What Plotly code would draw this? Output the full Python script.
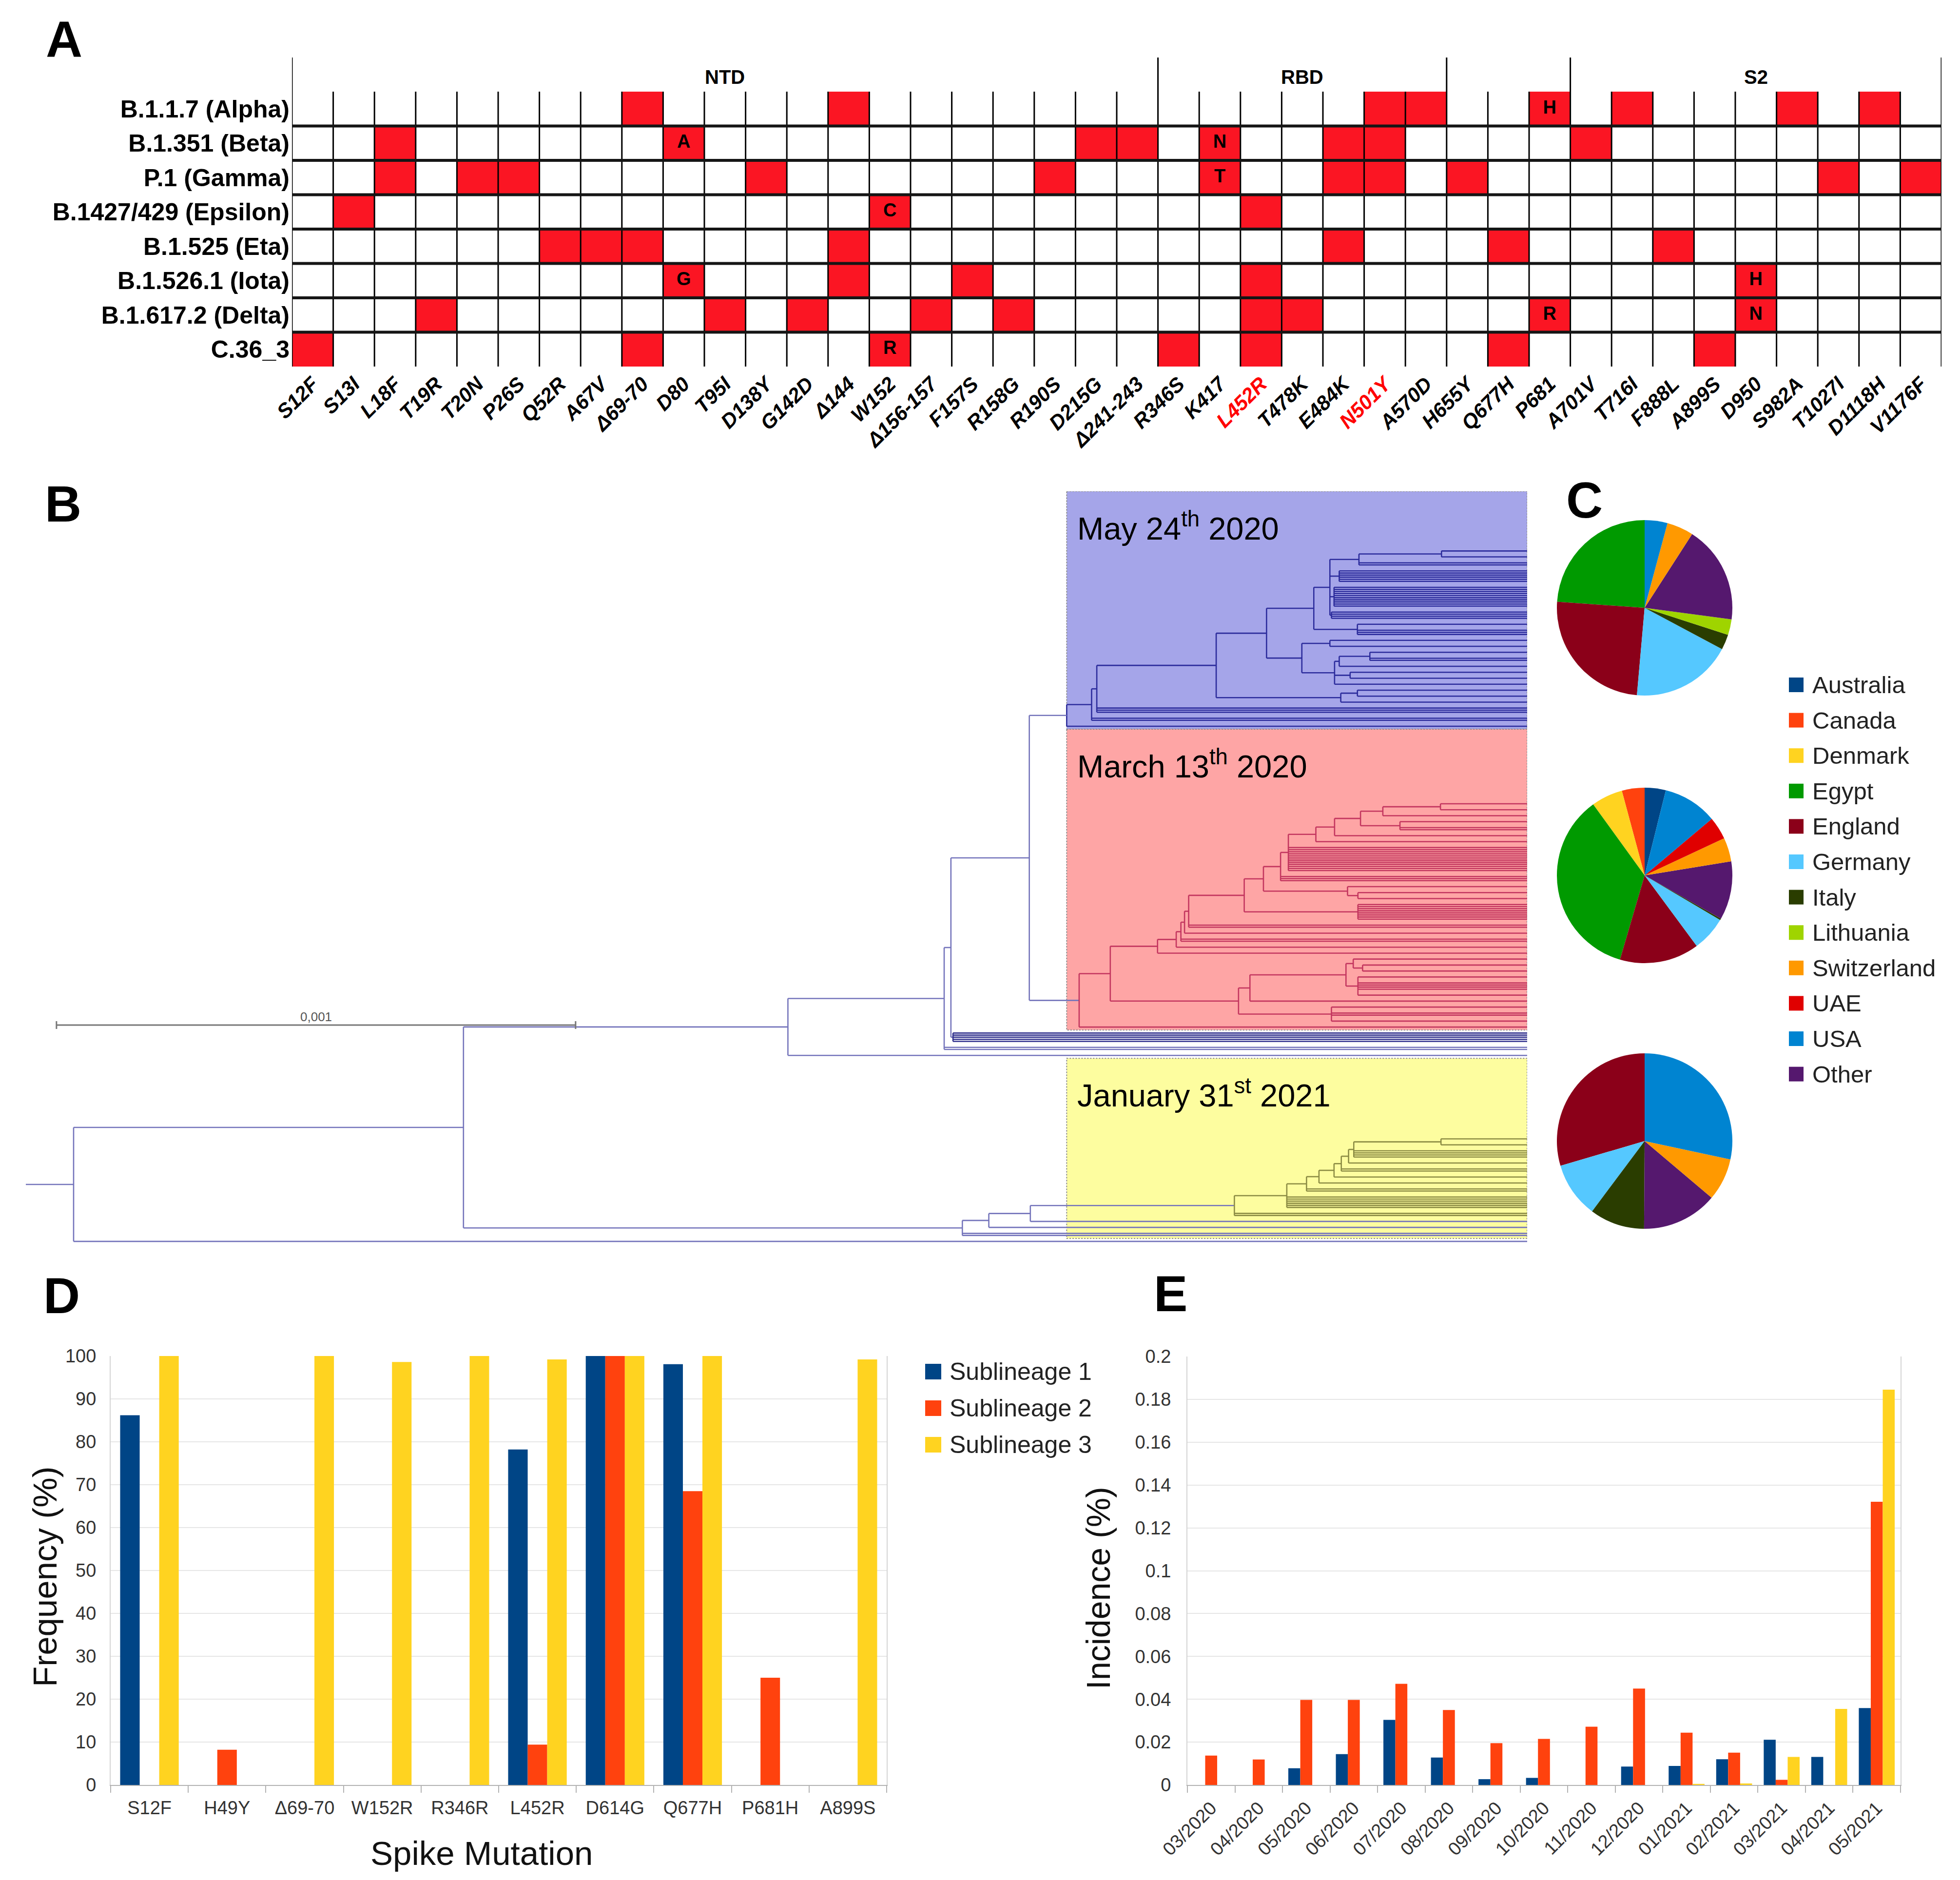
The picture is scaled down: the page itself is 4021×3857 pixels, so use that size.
import plotly.graph_objects as go

W, H = 4021, 3857
FONT = "Liberation Sans, Arial, Helvetica, sans-serif"

# ======================= DATA =======================
# ---- Panel A : spike mutations of variants ----
LINEAGES = ["B.1.1.7 (Alpha)", "B.1.351 (Beta)", "P.1 (Gamma)", "B.1427/429 (Epsilon)",
            "B.1.525 (Eta)", "B.1.526.1 (Iota)", "B.1.617.2 (Delta)", "C.36_3"]
MUTATIONS = ["S12F", "S13I", "L18F", "T19R", "T20N", "P26S", "Q52R", "A67V", "Δ69-70", "D80",
             "T95I", "D138Y", "G142D", "Δ144", "W152", "Δ156-157", "F157S", "R158G", "R190S",
             "D215G", "Δ241-243", "R346S", "K417", "L452R", "T478K", "E484K", "N501Y", "A570D",
             "H655Y", "Q677H", "P681", "A701V", "T716I", "F888L", "A899S", "D950", "S982A",
             "T1027I", "D1118H", "V1176F"]
HIGHLIGHTED_MUTATIONS = ["L452R", "N501Y"]
DOMAIN_NAMES = ["NTD", "RBD", "", "S2"]
DOMAIN_FIRST = ["S12F", "R346S", "H655Y", "A701V"]
ALPHA = ["Δ69-70", "Δ144", "N501Y", "A570D", "P681", "T716I", "S982A", "D1118H"]
BETA = ["L18F", "D80", "D215G", "Δ241-243", "K417", "E484K", "N501Y", "A701V"]
GAMMA = ["L18F", "T20N", "P26S", "D138Y", "R190S", "K417", "E484K", "N501Y", "H655Y", "T1027I", "V1176F"]
EPSILON = ["S13I", "W152", "L452R"]
ETA = ["Q52R", "A67V", "Δ69-70", "Δ144", "E484K", "Q677H", "F888L"]
IOTA = ["D80", "Δ144", "F157S", "L452R", "D950"]
DELTA = ["T19R", "T95I", "G142D", "Δ156-157", "R158G", "L452R", "T478K", "P681", "D950"]
C36_3 = ["S12F", "Δ69-70", "W152", "R346S", "L452R", "Q677H", "A899S"]
SUBSTITUTIONS = {
    ("B.1.1.7 (Alpha)", "P681"): "H", ("B.1.351 (Beta)", "D80"): "A",
    ("B.1.351 (Beta)", "K417"): "N", ("P.1 (Gamma)", "K417"): "T",
    ("B.1427/429 (Epsilon)", "W152"): "C", ("B.1.526.1 (Iota)", "D80"): "G",
    ("B.1.526.1 (Iota)", "D950"): "H", ("B.1.617.2 (Delta)", "P681"): "R",
    ("B.1.617.2 (Delta)", "D950"): "N", ("C.36_3", "W152"): "R",
}

# ---- Panel B : phylogeny (node depth in 1e-5 subst./site, ints = tips) ----
BLUE_CLADE = [200.5,
              [205.3,
               [206.3,
                [229.3,
                 [239.0,
                  [248.1,
                   [251.2,
                    [256.8, [272.7, 1, 1], 2],
                    [253.0, 6],
                    [252.0, 10],
                    [251.5, 4]],
                   [256.5, 1, 3]],
                  [245.8,
                   [251.2, 1, 1],
                   [252.1,
                    [253.0, [258.9, 1, 2], 1],
                    [255.1, 1, 1],
                    1]]],
                 [253.3, [256.5, 1, 1], 1]],
                3],
               2],
              1]
RED_CLADE = [202.9,
             [208.9,
              [218.0,
               [221.6,
                [222.5,
                 [223.2,
                  [224.0,
                   [234.7,
                    [238.4,
                     [241.7,
                      [243.2,
                       [248.5,
                        [252.1,
                         [257.1,
                          [261.4, [272.5, 1, 1], 1],
                          [264.7, 1, 2]],
                         1],
                        1],
                       12],
                      3],
                     [254.6, 1, [256.6, 1, 1]]],
                    [256.6, 8]],
                   2],
                  1],
                 2],
                1],
               1],
              [233.6,
               [235.8,
                [254.3,
                 [255.7, 1, [257.5, 1, 1]],
                 [256.6, 1, 4, 1]],
                1],
               [251.5, 1, 2, 1]]],
             1]
YELLOW_CLADE = [232.8,
                [242.9,
                 [246.7,
                  [249.1,
                   [252.0,
                    [253.4,
                     [254.8,
                      [255.8, [272.6, 1, 1], 4],
                      1],
                     2],
                    1],
                   1],
                  2],
                 6],
                2]
NAVY_BAND = [178.6, 5]
BR_NODE = [193.3, BLUE_CLADE, RED_CLADE]
NAVY_LINEAGE = [146.8, [176.9, [178.2, BR_NODE, NAVY_BAND], 2], 1]
YELLOW_LINEAGE = [180.4, [185.5, [193.5, YELLOW_CLADE, 1], 1], 2]
TREE = [9.2, [84.3, NAVY_LINEAGE, YELLOW_LINEAGE], 1]
SCALE_BAR = 100  # 0.001 subst./site
CLADE_LABELS = ["May 24<sup>th</sup> 2020", "March 13<sup>th</sup> 2020", "January 31<sup>st</sup> 2021"]

# ---- Panel C : country composition ----
COUNTRIES = ["Australia", "Canada", "Denmark", "Egypt", "England", "Germany", "Italy",
             "Lithuania", "Other", "Switzerland", "UAE", "USA"]
COUNTRY_COLORS = ["#004586", "#ff420e", "#ffd320", "#009a00", "#8b0019", "#55c8ff", "#2a3d00",
                  "#9fd400", "#55186e", "#ff9900", "#e00000", "#0084d1"]
LEGEND_COUNTRIES = ["Australia", "Canada", "Denmark", "Egypt", "England", "Germany", "Italy",
                    "Lithuania", "Switzerland", "UAE", "USA", "Other"]
PIE_MAY24 = [0, 0, 0, 23.9, 24.7, 18.6, 2.8, 2.9, 18.0, 4.9, 0, 4.2]
PIE_MAR13 = [3.9, 4.2, 5.8, 35.6, 14.7, 6.4, 0.3, 0, 10.8, 4.4, 4.2, 10.0]
PIE_JAN31 = [0, 0, 0, 0, 29.5, 10.2, 10.1, 0, 13.9, 7.8, 0, 28.3]

# ---- Panel D : mutation frequency ----
SUBLINEAGES = ["Sublineage 1", "Sublineage 2", "Sublineage 3"]
SUB_COLORS = ["#004586", "#ff420e", "#ffd320"]
D_MUTATIONS = ["S12F", "H49Y", "Δ69-70", "W152R", "R346R", "L452R", "D614G", "Q677H", "P681H", "A899S"]
FREQ_S1 = [86.2, 0, 0, 0, 0, 78.2, 100, 98.1, 0, 0]
FREQ_S2 = [0, 8.2, 0, 0, 0, 9.4, 100, 68.5, 25.0, 0]
FREQ_S3 = [100, 0, 100, 98.6, 100, 99.2, 100, 100, 0, 99.2]

# ---- Panel E : monthly incidence ----
MONTHS = ["03/2020", "04/2020", "05/2020", "06/2020", "07/2020", "08/2020", "09/2020", "10/2020",
          "11/2020", "12/2020", "01/2021", "02/2021", "03/2021", "04/2021", "05/2021"]
INC_S1 = [0, 0, 0.0078, 0.0144, 0.0304, 0.0128, 0.0027, 0.0033, 0, 0.0086, 0.0089, 0.0120, 0.0211, 0.0131, 0.0359]
INC_S2 = [0.0137, 0.0119, 0.0397, 0.0397, 0.0472, 0.0350, 0.0195, 0.0215, 0.0272, 0.0450, 0.0244, 0.0151, 0.0024, 0, 0.1322]
INC_S3 = [0, 0, 0, 0, 0, 0, 0, 0, 0, 0, 0.0005, 0.0007, 0.0131, 0.0355, 0.1845]
E_TICKS = [0, 0.02, 0.04, 0.06, 0.08, 0.1, 0.12, 0.14, 0.16, 0.18, 0.2]

# ======================= HELPERS =======================
def px(x):
    return x / W


def py(y):
    return 1 - y / H


CELL_RED = "#fb1523"
shapes, annos = [], []
fig = go.Figure()

# ======================= PANEL A =======================
rows = [ALPHA, BETA, GAMMA, EPSILON, ETA, IOTA, DELTA, C36_3]
z = [[1 if m in r else 0 for m in MUTATIONS] for r in rows]
nM, nL = len(MUTATIONS), len(LINEAGES)
fig.add_trace(go.Heatmap(
    z=z, x=list(range(nM)), y=list(range(nL)),
    colorscale=[[0, "white"], [1, CELL_RED]], zmin=0, zmax=1, showscale=False,
    hoverinfo="skip", xaxis="x", yaxis="y"))
sub_x = [MUTATIONS.index(m) for (lin, m) in SUBSTITUTIONS]
sub_y = [LINEAGES.index(lin) for (lin, m) in SUBSTITUTIONS]
sub_t = [f"<b>{aa}</b>" for aa in SUBSTITUTIONS.values()]
fig.add_trace(go.Scatter(x=sub_x, y=sub_y, text=sub_t, mode="text", textposition="middle center",
                         textfont=dict(family=FONT, size=38, color="black"), hoverinfo="skip",
                         xaxis="x", yaxis="y"))

bounds = [MUTATIONS.index(m) for m in DOMAIN_FIRST] + [nM]
for i in range(1, nM):
    if i in bounds:
        continue
    shapes.append(dict(type="line", xref="x", yref="y", x0=i - 0.5, x1=i - 0.5, y0=-0.5, y1=nL - 0.5,
                       line=dict(color="black", width=3)))
for b in bounds:
    shapes.append(dict(type="line", xref="x", yref="paper", x0=b - 0.5, x1=b - 0.5, y0=py(744), y1=py(110),
                       line=dict(color="black", width=3)))
for j in range(1, nL):
    shapes.append(dict(type="line", xref="x", yref="y", x0=-0.5, x1=nM - 0.5, y0=j - 0.5, y1=j - 0.5,
                       line=dict(color="#151515", width=6)))
for k, name in enumerate(DOMAIN_NAMES):
    if not name:
        continue
    c = (bounds[k] + bounds[k + 1]) / 2 - 0.5
    annos.append(dict(x=c, y=py(150), xref="x", yref="paper", text=f"<b>{name}</b>", showarrow=False,
                      font=dict(family=FONT, size=40, color="black"), xanchor="center", yanchor="middle"))

xt = []
for m in MUTATIONS:
    if m in HIGHLIGHTED_MUTATIONS:
        xt.append(f"<b><i><span style='color:#ff0000'>{m}</span></i></b>")
    else:
        xt.append(f"<b><i>{m}</i></b>")
yt = [f"<b>{lin}</b>" for lin in LINEAGES]

# ======================= PANEL B =======================
TIP_DEPTH = 289.2
CLUSTER_STEP = 0.35
BASE_COL = "#7474bb"
COLOR_OF = {id(BLUE_CLADE): "#2c2c9c", id(RED_CLADE): "#c3365f",
            id(YELLOW_CLADE): "#8c8c44", id(NAVY_BAND): "#2e2e8c"}
BOX_OF = {id(BLUE_CLADE): dict(pad=9.5, fill="#a5a5e9", label=CLADE_LABELS[0]),
          id(RED_CLADE): dict(pad=12.0, fill="#fea5a5", label=CLADE_LABELS[1]),
          id(YELLOW_LINEAGE): dict(pad=13.0, fill="#fdfd9f", label=CLADE_LABELS[2])}
segs = {}
state = {"y": -1.0}
boxes = []


def add_seg(col, x0, y0, x1, y1):
    xs, ys = segs.setdefault(col, ([], []))
    xs.extend([x0, x1, None])
    ys.extend([y0, y1, None])


def place(node, color):
    box = BOX_OF.get(id(node))
    top = None
    if box:
        top = state["y"] + 0.5
        state["y"] += box["pad"]
    col = COLOR_OF.get(id(node), color)
    depth = node[0]
    ys = []
    for ch in node[1:]:
        if isinstance(ch, int):
            for k in range(ch):
                state["y"] += CLUSTER_STEP if k > 0 else 1.0
                y = state["y"]
                add_seg(col, depth, y, TIP_DEPTH, y)
                ys.append(y)
        else:
            y = place(ch, col)
            add_seg(col, depth, y, ch[0], y)
            ys.append(y)
    add_seg(col, depth, ys[0], depth, ys[-1])
    if box:
        boxes.append((top, state["y"] + 0.5, box))
    return (ys[0] + ys[-1]) / 2


root_y = place(TREE, BASE_COL)
add_seg(BASE_COL, 0, root_y, TREE[0], root_y)
tree_bottom = state["y"] + 0.5
TREE_TOP_PX, TREE_BOT_PX = 1000, 2545
unit_px = (TREE_BOT_PX - TREE_TOP_PX) / (tree_bottom + 0.5)

for col, (xs, ys) in segs.items():
    fig.add_trace(go.Scatter(x=xs, y=ys, mode="lines", line=dict(color=col, width=2.6),
                             hoverinfo="skip", xaxis="x2", yaxis="y2"))
for top, bot, box in boxes:
    shapes.append(dict(type="rect", xref="x2", yref="y2", x0=200.5, x1=TIP_DEPTH, y0=top, y1=bot,
                       fillcolor=box["fill"], line=dict(color="#8a8a8a", width=2, dash="dot"), layer="below"))
    annos.append(dict(x=202.3, y=top + 72 / unit_px, xref="x2", yref="y2", text=box["label"],
                      showarrow=False, xanchor="left", yanchor="middle",
                      font=dict(family=FONT, size=65, color="black")))
sb0 = 5.9
shapes.append(dict(type="line", xref="x2", yref="paper", x0=sb0, x1=sb0 + SCALE_BAR, y0=py(2095), y1=py(2095),
                   line=dict(color="#777777", width=3)))
for xx in (sb0, sb0 + SCALE_BAR):
    shapes.append(dict(type="line", xref="x2", yref="paper", x0=xx, x1=xx, y0=py(2087), y1=py(2103),
                       line=dict(color="#777777", width=3)))
annos.append(dict(x=sb0 + SCALE_BAR / 2, y=py(2078), xref="x2", yref="paper", text="0,001", showarrow=False,
                  font=dict(family=FONT, size=26, color="#555555"), xanchor="center", yanchor="middle"))

# ======================= PANEL C =======================
for vals, cy in ((PIE_MAY24, 1239), (PIE_MAR13, 1788), (PIE_JAN31, 2333)):
    fig.add_trace(go.Pie(values=vals, labels=COUNTRIES, marker=dict(colors=COUNTRY_COLORS, line=dict(width=0)),
                         sort=False, direction="counterclockwise", rotation=0, textinfo="none",
                         hoverinfo="skip", showlegend=False,
                         domain=dict(x=[px(3366 - 180), px(3366 + 180)], y=[py(cy + 180), py(cy - 180)])))
for i, cname in enumerate(LEGEND_COUNTRIES):
    cy = 1397 + 72.6 * i
    colr = COUNTRY_COLORS[COUNTRIES.index(cname)]
    shapes.append(dict(type="rect", xref="paper", yref="paper", x0=px(3662), x1=px(3692),
                       y0=py(cy + 15), y1=py(cy - 15), fillcolor=colr, line=dict(width=0)))
    annos.append(dict(x=px(3708), y=py(cy), xref="paper", yref="paper", text=cname, showarrow=False,
                      xanchor="left", yanchor="middle", font=dict(family=FONT, size=49, color="#222222")))

# ======================= PANEL D =======================
for name, vals, colr in zip(SUBLINEAGES, (FREQ_S1, FREQ_S2, FREQ_S3), SUB_COLORS):
    fig.add_trace(go.Bar(x=D_MUTATIONS, y=vals, name=name, marker=dict(color=colr, line=dict(width=0)),
                         hoverinfo="skip", xaxis="x3", yaxis="y3"))
for i, (name, colr) in enumerate(zip(SUBLINEAGES, SUB_COLORS)):
    cy = 2806 + 75 * i
    shapes.append(dict(type="rect", xref="paper", yref="paper", x0=px(1890), x1=px(1923),
                       y0=py(cy + 16), y1=py(cy - 16), fillcolor=colr, line=dict(width=0)))
    annos.append(dict(x=px(1938), y=py(cy), xref="paper", yref="paper", text=name, showarrow=False,
                      xanchor="left", yanchor="middle", font=dict(family=FONT, size=50, color="#222222")))

# ======================= PANEL E =======================
for name, vals, colr in zip(SUBLINEAGES, (INC_S1, INC_S2, INC_S3), SUB_COLORS):
    fig.add_trace(go.Bar(x=MONTHS, y=vals, name=name, marker=dict(color=colr, line=dict(width=0)),
                         hoverinfo="skip", xaxis="x4", yaxis="y4"))

# axis titles and panel letters
annos += [
    dict(x=px(84), y=py(3227), text="Frequency (%)", textangle=-90, font=dict(size=69)),
    dict(x=px(980), y=py(3794), text="Spike Mutation", font=dict(size=69)),
    dict(x=px(2245), y=py(3250), text="Incidence (%)", textangle=-90, font=dict(size=68)),
]
for a in annos[-3:]:
    a.update(xref="paper", yref="paper", showarrow=False, xanchor="center", yanchor="middle")
    a["font"].update(family=FONT, color="#111111")
for letter, lx, ly in (("A", 84, 72), ("B", 82, 1026), ("C", 3203, 1018), ("D", 79, 2650), ("E", 2357, 2646)):
    annos.append(dict(x=px(lx), y=py(ly), xref="paper", yref="paper", text=f"<b>{letter}</b>", showarrow=False,
                      xanchor="left", yanchor="middle", font=dict(family=FONT, size=104, color="black")))

bar_x = dict(type="category", showgrid=False, zeroline=False, ticks="outside", tickson="boundaries",
             ticklen=14, tickcolor="#b3b3b3", tickwidth=2, showline=True, linecolor="#b3b3b3", linewidth=2,
             tickfont=dict(family=FONT, size=38, color="#333333"), automargin=False)
bar_y = dict(showgrid=True, gridcolor="#e6e6e6", gridwidth=2, zeroline=False, showline=True,
             linecolor="#d4d4d4", linewidth=2, mirror=True, ticks="",
             tickfont=dict(family=FONT, size=38, color="#333333"), automargin=False)

fig.update_layout(
    width=W, height=H, margin=dict(l=0, r=0, t=0, b=0), template="none",
    paper_bgcolor="white", plot_bgcolor="rgba(0,0,0,0)", showlegend=False,
    barmode="group", bargap=0.245, bargroupgap=0, font=dict(family=FONT, color="#222222"),
    xaxis=dict(domain=[px(591), px(3975)], range=[-0.5, nM - 0.5], tickvals=list(range(nM)), ticktext=xt,
               tickangle=-45, tickfont=dict(family=FONT, size=42, color="black"), showgrid=False,
               zeroline=False, ticks="", showline=False, anchor="y", automargin=False, ticklabelstandoff=2),
    yaxis=dict(domain=[py(744), py(180)], range=[nL - 0.5, -0.5], tickvals=list(range(nL)), ticktext=yt,
               tickfont=dict(family=FONT, size=50, color="black"), showgrid=False, zeroline=False, ticks="",
               showline=False, anchor="x", automargin=False, ticklabelstandoff=4),
    xaxis2=dict(domain=[px(45), px(3125)], range=[0, TIP_DEPTH], visible=False, anchor="y2"),
    yaxis2=dict(domain=[py(TREE_BOT_PX), py(TREE_TOP_PX)], range=[tree_bottom, -0.5], visible=False, anchor="x2"),
    xaxis3=dict(domain=[px(219), px(1811)], anchor="y3", ticklabelstandoff=12, **bar_x),
    yaxis3=dict(domain=[py(3654), py(2774)], range=[0, 100], dtick=10, anchor="x3", ticklabelstandoff=20, **bar_y),
    xaxis4=dict(domain=[px(2428), px(3891)], anchor="y4", tickangle=-45, ticklabelstandoff=8, **bar_x),
    yaxis4=dict(domain=[py(3654), py(2775)], range=[0, 0.2], tickvals=E_TICKS,
                ticktext=[f"{v:g}" for v in E_TICKS], anchor="x4", ticklabelstandoff=24, **bar_y),
    shapes=shapes, annotations=annos,
)

fig.write_html("out.html")
